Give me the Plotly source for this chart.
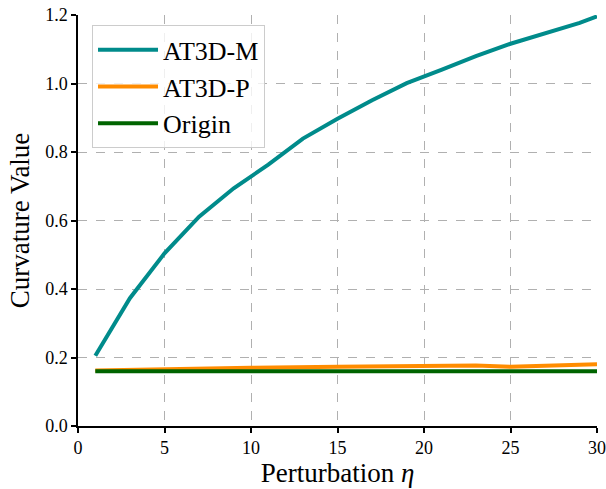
import plotly.graph_objects as go

x_m = [1, 3, 5, 7, 9, 11, 13, 15, 17, 19, 21, 23, 25, 27, 29, 30]
at3d_m = [0.205, 0.373, 0.504, 0.611, 0.694, 0.763, 0.839, 0.897, 0.951, 1.001, 1.040, 1.080, 1.116, 1.147, 1.177, 1.196]

x_p = [1, 5, 10, 15, 20, 23, 25, 27, 30]
at3d_p = [0.162, 0.166, 0.170, 0.173, 0.176, 0.177, 0.173, 0.176, 0.180]

x_o = [1, 30]
origin = [0.160, 0.160]

x_ticks = [0, 5, 10, 15, 20, 25, 30]
y_ticks = [0.0, 0.2, 0.4, 0.6, 0.8, 1.0, 1.2]

FONT = "Liberation Serif"

fig = go.Figure()
fig.add_trace(go.Scatter(x=x_m, y=at3d_m, mode="lines", name="AT3D-M",
                         line=dict(color="#008B8B", width=4)))
fig.add_trace(go.Scatter(x=x_p, y=at3d_p, mode="lines", name="AT3D-P",
                         line=dict(color="#FF8C00", width=4)))
fig.add_trace(go.Scatter(x=x_o, y=origin, mode="lines", name="Origin",
                         line=dict(color="#006400", width=4)))

fig.update_layout(
    width=606, height=489,
    margin=dict(l=78, r=9, t=15, b=63, autoexpand=False),
    paper_bgcolor="white", plot_bgcolor="white",
    font=dict(family=FONT, size=18, color="black"),
    showlegend=True,
    legend=dict(x=0.027, y=0.975, xanchor="left", yanchor="top",
                bgcolor="rgba(255,255,255,0.8)", bordercolor="#cccccc", borderwidth=1,
                font=dict(family=FONT, size=26, color="black"),
                tracegroupgap=0, itemwidth=60),
)
fig.update_xaxes(
    range=[0, 30], tickvals=x_ticks, ticktext=[str(v) for v in x_ticks],
    showline=True, linecolor="black", linewidth=1.5,
    ticks="outside", ticklen=5, tickcolor="black", tickwidth=1.5,
    showgrid=True, gridcolor="#b0b0b0", griddash="dash", gridwidth=1,
    zeroline=False, mirror=False, automargin=False,
    title=dict(text="Perturbation <i>η</i>", font=dict(family=FONT, size=27), standoff=3),
    tickfont=dict(family=FONT, size=18),
)
fig.update_yaxes(
    range=[0, 1.2], tickvals=y_ticks, ticktext=[f"{v:.1f}" for v in y_ticks],
    showline=True, linecolor="black", linewidth=1.5,
    ticks="outside", ticklen=5, tickcolor="black", tickwidth=1.5,
    showgrid=True, gridcolor="#b0b0b0", griddash="dash", gridwidth=1,
    zeroline=False, mirror=False, automargin=False,
    title=dict(text="Curvature Value", font=dict(family=FONT, size=27), standoff=8),
    tickfont=dict(family=FONT, size=18),
)

fig.write_html("out.html", config={"displayModeBar": False},
               post_script="document.body.style.margin='0';document.body.style.padding='0';")
